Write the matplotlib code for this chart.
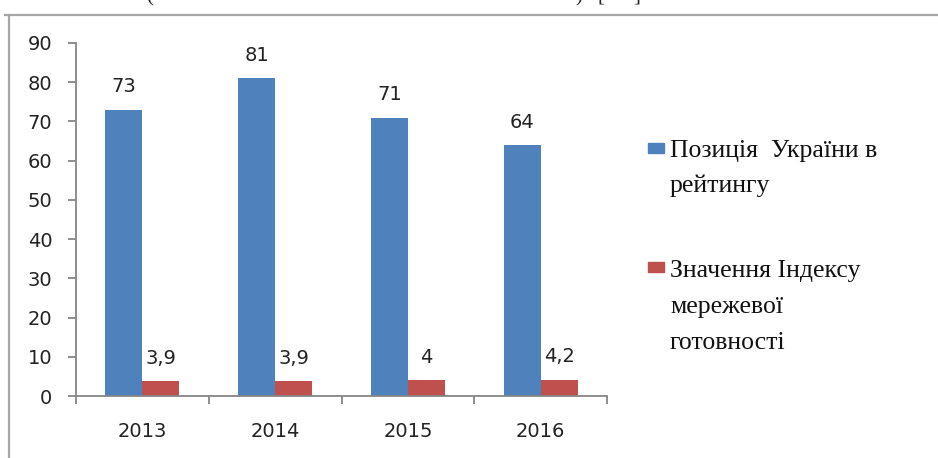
import matplotlib
matplotlib.use("Agg")
import matplotlib.pyplot as plt
from matplotlib.lines import Line2D
from matplotlib.patches import Rectangle
import numpy as np

# Україна в рейтингу мережевої готовності (NRI)
years = ["2013", "2014", "2015", "2016"]
position = [73, 81, 71, 64]
index_value = [3.9, 3.9, 4.0, 4.2]
position_labels = ["73", "81", "71", "64"]
index_labels = ["3,9", "3,9", "4", "4,2"]
legend_lines = [["Позиція  України в", "рейтингу"],
                ["Значення Індексу", "мережевої", "готовності"]]

blue = "#4F81BD"
red = "#C0504D"
axis_grey = "#868686"

W, H = 938, 458
fig = plt.figure(figsize=(W / 100, H / 100), dpi=100)
fig.patch.set_facecolor("white")

# chart area frame (only top and left edges visible)
fig.add_artist(Line2D([5 / W, 1], [1 - 14.5 / H] * 2, color="#a6a6a6", lw=1.6))
fig.add_artist(Line2D([9 / W] * 2, [0, 1 - 14.5 / H], color="#a6a6a6", lw=1.6))

# tail of the caption line above the chart
for x, s in [(146, "("), (575, ")"), (597, "["), (633, "]")]:
    fig.text(x / W, 1 - 1 / H, s, family="Liberation Serif", fontsize=15,
             ha="left", va="baseline", color="#222222")

ax = fig.add_axes([76 / W, 62 / H, (607 - 76) / W, (396 - 43) / H])
x = np.arange(len(years))
w = 0.278
b1 = ax.bar(x - w / 2, position, w, color=blue)
b2 = ax.bar(x + w / 2, index_value, w, color=red)

for bars, labels in [(b1, position_labels), (b2, index_labels)]:
    for rect, lab in zip(bars, labels):
        ax.annotate(lab, (rect.get_x() + rect.get_width() / 2, rect.get_height()),
                    xytext=(0, 9.5), textcoords="offset points",
                    ha="center", va="bottom", fontsize=14, color="#222222")

ax.set_xlim(-0.5, len(years) - 0.5)
ax.set_ylim(0, 90)
ax.set_yticks(range(0, 91, 10))
ax.set_xticks(np.arange(-0.5, len(years)), labels=[""] * (len(years) + 1))
ax.set_xticks(x, labels=years, minor=True)

for side in ["top", "right"]:
    ax.spines[side].set_visible(False)
for side in ["left", "bottom"]:
    ax.spines[side].set_color(axis_grey)
    ax.spines[side].set_linewidth(1.3)

ax.tick_params(axis="y", direction="out", length=6, width=1.3, color=axis_grey,
               pad=11, labelsize=14, labelcolor="#222222")
ax.tick_params(axis="x", which="major", direction="out", length=6, width=1.3,
               color=axis_grey)
ax.tick_params(axis="x", which="minor", length=0, pad=19, labelsize=14,
               labelcolor="#222222")

# legend drawn by hand: markers plus wrapped serif labels
marker_tops = [143, 262]
baselines = [[157, 192], [277, 313, 349]]
for col, top, lines, bls in zip([blue, red], marker_tops, legend_lines, baselines):
    fig.add_artist(Rectangle((648 / W, 1 - (top + 9.5) / H), 16 / W, 9.5 / H,
                             color=col, transform=fig.transFigure))
    for s, bl in zip(lines, bls):
        fig.text(670 / W, 1 - bl / H, s, family="Liberation Serif", fontsize=18.5,
                 ha="left", va="baseline", color="#111111")

fig.savefig("out.png", dpi=100)
